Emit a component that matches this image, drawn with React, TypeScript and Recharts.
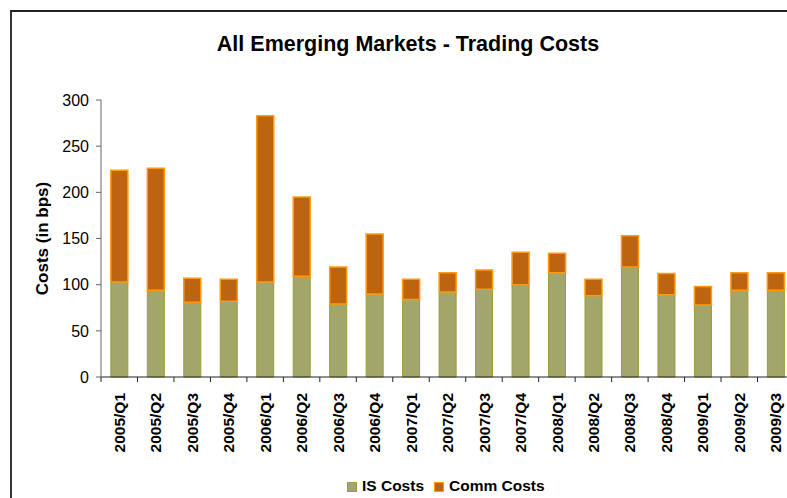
import React from "react";
import { BarChart, Bar, XAxis, YAxis } from "recharts";

const QUARTERS = [
  "2005/Q1", "2005/Q2", "2005/Q3", "2005/Q4",
  "2006/Q1", "2006/Q2", "2006/Q3", "2006/Q4",
  "2007/Q1", "2007/Q2", "2007/Q3", "2007/Q4",
  "2008/Q1", "2008/Q2", "2008/Q3", "2008/Q4",
  "2009/Q1", "2009/Q2", "2009/Q3",
];
const IS_COSTS = [103, 94, 81, 82, 103, 109, 79, 90, 84, 92, 95, 100, 113, 88, 119, 89, 78, 94, 94];
const COMM_COSTS = [121, 132, 26, 24, 180, 86, 40, 65, 22, 21, 21, 35, 21, 18, 34, 23, 20, 19, 19];
const Y_TICKS = [0, 50, 100, 150, 200, 250, 300];

const IS_FILL = "#A3A66B";
const IS_STROKE = "#9C9A3A";
const COMM_FILL = "#BC6410";
const COMM_STROKE = "#FF9A10";
const FONT = "'Liberation Sans', Arial, sans-serif";

const data = QUARTERS.map((q, i) => ({
  quarter: q,
  is: IS_COSTS[i],
  comm: COMM_COSTS[i],
}));

// quarter label rotated, plus a tick mark on the left edge of each band
function QuarterTick(props: any) {
  const { x, y, payload, width, visibleTicksCount } = props;
  const half =
    payload?.offset ?? (width && visibleTicksCount ? width / visibleTicksCount / 2 : 18);
  return (
    <g>
      <line x1={x - half} y1={y} x2={x - half} y2={y + 5} stroke="#222" strokeWidth={1} />
      <g transform={`translate(${x},${y + 16}) rotate(-90)`}>
        <text
          x={0}
          y={0}
          dy="0.36em"
          textAnchor="end"
          fill="#000"
          fontSize={15.5}
          fontWeight={700}
          fontFamily={FONT}
        >
          {payload.value}
        </text>
      </g>
    </g>
  );
}

function Swatch({ fill, stroke }: { fill: string; stroke: string }) {
  return (
    <span
      style={{
        display: "inline-block",
        width: 8,
        height: 8,
        backgroundColor: fill,
        border: `1px solid ${stroke}`,
        marginRight: 5,
        verticalAlign: "-1px",
      }}
    />
  );
}

export default function App() {
  return (
    <div
      style={{
        position: "fixed",
        left: 0,
        top: 0,
        width: 787,
        height: 498,
        overflow: "hidden",
        background: "#fff",
        fontFamily: FONT,
      }}
    >
      <div
        style={{
          position: "absolute",
          left: 10,
          top: 10,
          width: 900,
          height: 600,
          borderLeft: "2px solid #333",
          borderTop: "2px solid #222",
        }}
      />
      <div
        style={{
          position: "absolute",
          left: 0,
          top: 32,
          width: 816,
          textAlign: "center",
          fontSize: 21.5,
          lineHeight: "24px",
          fontWeight: 700,
          color: "#000",
        }}
      >
        All Emerging Markets - Trading Costs
      </div>

      <div style={{ position: "absolute", left: 0, top: 0 }}>
        <BarChart
          width={830}
          height={498}
          data={data}
          barCategoryGap="27%"
          margin={{ top: 100, right: 36, left: 0, bottom: 0 }}
        >
          <XAxis
            dataKey="quarter"
            interval={0}
            height={121}
            tickLine={false}
            tickSize={0}
            tickMargin={0}
            axisLine={{ stroke: "#222", strokeWidth: 1 }}
            tick={<QuarterTick />}
          />
          <YAxis
            width={101}
            domain={[0, 300]}
            ticks={Y_TICKS}
            interval={0}
            tickSize={5}
            tickMargin={7}
            axisLine={{ stroke: "#666" }}
            tickLine={{ stroke: "#666" }}
            tick={{ fill: "#000", fontSize: 16, fontFamily: FONT }}
            label={{
              value: "Costs (in bps)",
              angle: -90,
              position: "center",
              dx: -9,
              style: { fill: "#000", fontSize: 17, fontWeight: 700, fontFamily: FONT },
            }}
          />
          <Bar
            dataKey="is"
            stackId="a"
            fill={IS_FILL}
            stroke={IS_STROKE}
            strokeWidth={1}
            isAnimationActive={false}
          />
          <Bar
            dataKey="comm"
            stackId="a"
            fill={COMM_FILL}
            stroke={COMM_STROKE}
            strokeWidth={1.5}
            isAnimationActive={false}
          />
        </BarChart>
      </div>

      <div
        style={{
          position: "absolute",
          left: 347,
          top: 477,
          fontSize: 15.5,
          lineHeight: "18px",
          fontWeight: 700,
          color: "#000",
          whiteSpace: "nowrap",
        }}
      >
        <Swatch fill={IS_FILL} stroke={IS_STROKE} />
        <span style={{ marginRight: 10 }}>IS Costs</span>
        <Swatch fill={COMM_FILL} stroke={COMM_STROKE} />
        <span>Comm Costs</span>
      </div>
    </div>
  );
}
